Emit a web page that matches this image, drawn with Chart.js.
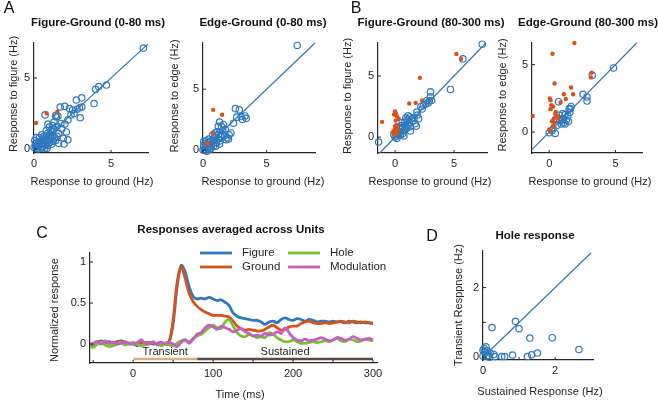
<!DOCTYPE html>
<html>
<head>
<meta charset="utf-8">
<script src="https://cdn.jsdelivr.net/npm/chart.js@4.4.1/dist/chart.umd.min.js"></script>
<style>
  html, body { margin: 0; padding: 0; background: #fff; }
  #wrap { position: relative; width: 658px; height: 402px; overflow: hidden; }
  #wrap canvas { position: absolute; left: 0; top: 0; }
</style>
</head>
<body>
<div id="wrap">
  <canvas id="a1" width="658" height="402"></canvas>
  <canvas id="a2" width="658" height="402"></canvas>
  <canvas id="b1" width="658" height="402"></canvas>
  <canvas id="b2" width="658" height="402"></canvas>
  <canvas id="c" width="658" height="402"></canvas>
  <canvas id="d" width="658" height="402"></canvas>
</div>
<script>
// ---- data ----
// A: 0-80 ms, [ground, figure/edge] in Hz
const a1Units = [[7.1,7.1],[4.7,4.5],[4.2,4.4],[4.0,4.2],[3.9,3.2],[3.1,3.6],[2.75,3.45],[3.1,2.95],[2.95,2.9],[2.8,2.8],[3.0,2.2],[2.5,2.75],[2.3,2.85],[2.0,3.0],[1.7,2.95],[2.6,2.5],[2.4,2.4],[2.2,2.05],[1.55,2.3],[1.45,2.25],[1.4,2.35],[0.72,2.4],[2.0,1.75],[1.75,1.8],[1.5,1.6],[2.1,1.2],[1.6,1.1],[1.9,0.75],[2.2,0.65],[1.95,0.35],[1.3,1.4],[1.2,1.2],[1.1,1.3],[1.0,1.0],[0.9,1.1],[0.8,0.9],[1.2,0.9],[1.35,0.8],[1.5,0.9],[1.4,0.6],[1.1,0.7],[0.95,0.6],[0.85,0.5],[0.7,0.6],[0.6,0.45],[0.55,0.7],[0.5,0.35],[0.4,0.5],[0.35,0.3],[0.3,0.15],[0.2,0.25],[0.15,0.05],[0.1,0.4],[0.05,0.6],[0.0,0.1],[0.25,0.0],[0.45,0.05],[0.6,0.2],[0.75,0.3],[0.9,0.25],[1.0,0.45],[1.15,0.35],[1.25,0.55],[0.65,0.9],[0.5,1.0],[0.35,0.8],[0.8,1.3],[1.0,1.55],[0.9,1.75],[1.2,1.65],[1.3,1.9],[0.3,0.5],[0.15,0.8],[0.7,0.05],[1.6,0.4],[1.8,1.4],[1.05,0.85],[0.55,0.15],[0.85,0.05],[0.1,0.2]]
const a1Sig = [[0.13,1.83],[0.82,2.51],[1.51,2.63]]
const a2Units = [[7.4,8.6],[2.55,3.4],[2.85,3.3],[3.4,2.6],[3.0,2.75],[3.1,2.5],[2.65,2.7],[3.3,2.8],[2.4,2.2],[1.3,2.3],[1.6,2.1],[1.45,1.95],[1.2,1.95],[1.75,1.7],[1.55,1.6],[2.2,1.4],[1.9,1.0],[1.3,0.5],[1.0,1.2],[1.1,1.5],[0.9,1.0],[0.8,0.8],[1.2,0.9],[1.4,1.1],[1.5,1.3],[1.7,1.2],[1.05,0.6],[0.7,0.5],[0.6,0.7],[0.5,0.3],[0.4,0.6],[0.3,0.4],[0.2,0.2],[0.15,0.55],[0.1,0.05],[0.05,0.3],[0.0,0.0],[0.3,-0.1],[0.5,0.05],[0.65,0.25],[0.85,0.35],[1.0,0.3],[0.25,0.75],[0.05,0.7],[0.45,0.9],[0.75,1.2],[0.95,1.4],[1.25,1.3],[2.0,0.9],[1.8,0.85],[0.35,0.15],[0.6,0.1],[0.15,-0.05],[2.05,1.25],[1.35,0.75]]
const a2Sig = [[0.8,3.3],[1.5,2.9],[0.75,1.4],[0.4,0.55],[0.3,0.5]]

// B: 80-300 ms
const b1Units = [[7.4,7.6],[5.75,6.4],[4.7,3.9],[3.0,3.7],[3.0,3.3],[2.7,3.0],[2.6,2.7],[2.8,2.8],[3.1,3.0],[2.4,2.6],[2.2,2.5],[1.85,2.05],[1.25,1.65],[1.3,0.85],[1.3,0.5],[1.7,1.1],[1.5,1.3],[1.0,1.4],[0.8,1.2],[1.1,1.0],[0.9,0.9],[0.6,0.8],[0.5,0.6],[0.7,0.5],[0.4,0.4],[0.3,0.2],[0.2,0.5],[0.1,0.1],[0.0,0.0],[-0.1,0.2],[0.15,-0.1],[0.45,0.15],[0.65,0.3],[0.85,0.6],[1.0,0.75],[1.2,1.2],[1.4,1.5],[1.6,1.55],[0.9,1.55],[0.6,1.2],[1.9,1.8],[2.0,1.5],[2.3,2.3],[0.35,0.75],[-1.4,-0.4],[0.25,0.3],[1.8,0.9],[1.1,1.75],[0.55,0.95],[0.75,0.1],[2.9,2.95]]
const b1Sig = [[5.2,6.8],[5.6,6.4],[2.1,4.85],[1.2,2.75],[1.75,2.8],[2.3,3.0],[-1.1,1.25],[0.0,2.1],[0.1,1.9],[-0.1,1.85],[0.15,1.7],[0.05,1.35],[0.0,0.9],[-0.05,0.6],[0.1,1.0],[-0.2,0.4],[0.2,0.75],[-0.05,0.3],[0.3,1.5],[0.25,0.55],[0.1,0.2]]
const b2Units = [[4.85,4.75],[3.25,4.2],[2.55,2.8],[2.85,2.3],[2.85,2.6],[0.7,2.25],[1.5,1.7],[1.55,1.45],[1.2,1.3],[1.45,0.8],[1.3,0.9],[1.0,1.0],[1.1,0.7],[0.9,0.6],[0.8,0.85],[0.6,0.5],[0.45,-0.1],[0.0,-0.05],[1.65,1.9],[1.4,1.2],[1.0,1.35],[0.75,1.25],[1.2,0.6],[0.55,0.95],[0.3,0.25],[0.2,0.1],[1.6,1.75],[0.95,0.9]]
const b2Sig = [[1.9,6.6],[0.25,5.8],[0.4,3.6],[3.2,4.4],[3.15,4.05],[1.65,3.3],[1.8,2.8],[1.1,2.8],[1.25,2.45],[0.85,2.2],[0.05,2.5],[0.1,2.35],[0.1,1.7],[0.15,2.0],[0.3,1.9],[-1.25,1.2],[0.6,1.2],[0.7,1.0],[0.4,0.7],[0.3,0.45],[0.1,0.1],[0.5,1.5],[0.2,0.8],[0.0,0.2],[0.35,1.0],[0.45,1.35]]

// D: hole response [sustained, transient]
const dUnits = [[0.08,0.3],[0.03,0.25],[0.25,0.85],[0.9,1.03],[1.0,0.82],[1.3,0.55],[1.92,0.56],[2.66,0.22],[1.51,0.12],[1.35,0.07],[1.23,0.02],[0.82,0.06],[0.6,0.02],[0.52,0.02],[0.33,0.02],[0.3,0.08],[0.15,0.05],[0.1,0.03],[0.0,0.03],[0.2,0.12],[0.05,0.15],[0.12,0.18],[0.0,0.2],[0.18,0.0]]

// identity lines (axis extent)
const a1Diag = [0, 7.4]
const a2Diag = [0, 8.8]
const b1Diag = [-1.3, 7.7]
const b2Diag = [-1.3, 6.6]
const dDiag = [0, 3.0]

// C: averaged responses
const timeMs = [-55,-50,-45,-40,-35,-30,-25,-20,-15,-10,-5,0,5,10,15,20,25,30,35,40,45,50,55,60,65,70,75,80,85,90,95,100,105,110,115,120,125,130,135,140,145,150,155,160,165,170,175,180,185,190,195,200,205,210,215,220,225,230,235,240,245,250,255,260,265,270,275,280,285,290,295,300]
const figureResp = [0.0,-0.02,0.02,0.04,0.02,0.03,0.01,0.03,0.04,0.02,0.0,0.01,-0.02,0.02,0.01,0.02,0.0,0.01,0.02,0.0,0.03,0.25,0.70,0.96,0.88,0.70,0.58,0.55,0.56,0.55,0.57,0.55,0.53,0.54,0.51,0.47,0.38,0.34,0.32,0.31,0.30,0.29,0.29,0.27,0.24,0.27,0.28,0.26,0.30,0.32,0.30,0.29,0.31,0.30,0.28,0.30,0.29,0.27,0.28,0.28,0.27,0.28,0.27,0.27,0.26,0.28,0.27,0.26,0.27,0.26,0.26,0.25]
const groundResp = [0.01,-0.01,0.03,0.02,0.03,0.01,0.02,0.02,0.03,0.01,0.01,0.0,0.0,0.01,0.02,0.01,0.01,0.0,0.01,0.01,0.03,0.30,0.75,0.94,0.80,0.62,0.52,0.46,0.42,0.39,0.37,0.35,0.35,0.35,0.34,0.33,0.28,0.22,0.19,0.17,0.18,0.17,0.16,0.16,0.18,0.21,0.23,0.20,0.17,0.18,0.21,0.22,0.22,0.25,0.27,0.28,0.26,0.25,0.25,0.26,0.25,0.26,0.27,0.28,0.27,0.26,0.28,0.27,0.26,0.27,0.26,0.26]
const holeResp = [-0.02,-0.04,0.0,0.02,-0.01,-0.03,-0.02,0.0,0.02,-0.01,0.01,0.02,0.0,-0.02,-0.01,0.01,0.02,0.0,-0.02,0.0,-0.01,-0.02,0.01,0.04,0.05,0.03,0.07,0.10,0.12,0.16,0.20,0.23,0.20,0.19,0.27,0.30,0.22,0.14,0.10,0.09,0.12,0.10,0.08,0.09,0.08,0.14,0.12,0.08,0.05,0.03,0.03,0.05,0.03,0.01,0.01,0.02,0.03,0.02,0.03,0.04,0.03,0.05,0.07,0.04,0.03,0.06,0.05,0.03,0.04,0.06,0.05,0.04]
const modulationResp = [-0.01,0.01,0.03,0.0,0.04,0.01,0.02,0.0,0.01,0.03,0.01,0.0,0.02,0.05,0.01,0.0,0.03,-0.01,0.02,0.01,0.02,0.0,-0.03,0.02,0.05,0.01,0.06,0.12,0.14,0.20,0.23,0.21,0.18,0.22,0.20,0.18,0.15,0.17,0.19,0.15,0.13,0.10,0.11,0.10,0.13,0.11,0.12,0.15,0.13,0.20,0.14,0.08,0.05,0.04,0.06,0.04,0.05,0.06,0.08,0.06,0.04,0.05,0.08,0.07,0.05,0.06,0.09,0.07,0.05,0.06,0.07,0.05]
const epochNames = ["Transient", "Sustained"]
const epochEdges = [0, 80, 300]
const epochLevel = -0.18

// tick values
const scatterTicks = [0, 5]
const cTimeTicks = [-50, 0, 50, 100, 150, 200, 250, 300]
const cRespTicks = [0, 0.5, 1]
const dTicks = [0, 1, 2]

// ---- style ----
const W = 658, H = 402
const FONT = "'Liberation Sans', Arial, Helvetica, sans-serif"
const BLUE = "#2f78bd", ORANGE = "#d95319", GREEN = "#78c02c", MAGENTA = "#c45ec4"
const AXIS = "#262626", TXT = "#262626"
const YW = 30, XH = 20

function pts(arr) { return arr.map(p => ({ x: p[0], y: p[1] })) }

// text + inward tick marks, drawn in page coordinates
function overlay(items, extra) {
  return {
    id: "overlay",
    afterDraw(chart) {
      const ctx = chart.ctx
      const area = chart.chartArea
      ctx.save()
      ctx.strokeStyle = AXIS
      ctx.lineWidth = 1
      const xs = chart.scales.x, ys = chart.scales.y
      xs.ticks.forEach(t => {
        const px = xs.getPixelForValue(t.value)
        ctx.beginPath(); ctx.moveTo(px, area.bottom); ctx.lineTo(px, area.bottom - 3); ctx.stroke()
      })
      ys.ticks.forEach(t => {
        const py = ys.getPixelForValue(t.value)
        ctx.beginPath(); ctx.moveTo(area.left, py); ctx.lineTo(area.left + 3, py); ctx.stroke()
      })
      items.forEach(it => {
        ctx.save()
        ctx.fillStyle = it.color || TXT
        ctx.font = (it.bold ? "bold " : "") + (it.size || 11) + "px " + FONT
        ctx.textAlign = it.align || "center"
        ctx.textBaseline = "middle"
        ctx.translate(it.x, it.y)
        if (it.rot) ctx.rotate(-Math.PI / 2)
        ctx.fillText(it.text, 0, 0)
        ctx.restore()
      })
      if (extra) extra(chart, ctx)
      ctx.restore()
    }
  }
}

function axis(min, max, vals, label, fit) {
  return {
    type: "linear", min, max,
    grid: { display: false, drawTicks: false },
    border: { display: true, color: AXIS, width: 1.2 },
    ticks: { color: TXT, font: { family: FONT, size: 11 }, padding: 4, autoSkip: false, maxRotation: 0, callback: label },
    afterBuildTicks: s => { s.ticks = vals.map(v => ({ value: v })) },
    afterFit: fit
  }
}

function baseOptions(box, xAxis, yAxis) {
  return {
    responsive: false, animation: false, events: [], devicePixelRatio: 1,
    layout: { padding: { left: box[0] - YW, top: box[1], right: W - box[2], bottom: H - box[3] - XH } },
    plugins: { legend: { display: false }, tooltip: { enabled: false }, title: { display: false } },
    scales: { x: xAxis, y: yAxis }
  }
}

const showAll = v => String(v)

function scatterPanel(id, box, xr, yr, diag, units, sig, texts, ticksX, ticksY, labX, labY) {
  const datasets = []
  if (sig) datasets.push({ data: pts(sig), pointRadius: 2.2, backgroundColor: ORANGE, borderWidth: 0, clip: false })
  datasets.push({ data: pts(units), pointRadius: 3.2, pointBorderWidth: 1.2, borderColor: BLUE, backgroundColor: "rgba(0,0,0,0)", clip: false })
  datasets.push({ data: diag.map(v => ({ x: v, y: v })), showLine: true, borderColor: BLUE, borderWidth: 1.2, pointRadius: 0, clip: false })
  new Chart(document.getElementById(id), {
    type: "scatter",
    data: { datasets },
    options: baseOptions(box,
      axis(xr[0], xr[1], ticksX || scatterTicks, labX || showAll, s => { s.height = XH }),
      axis(yr[0], yr[1], ticksY || scatterTicks, labY || showAll, s => { s.width = YW })),
    plugins: [overlay(texts)]
  })
}

// ---- panel A ----
scatterPanel("a1", [34, 43, 148, 153], [0, 7.4], [-0.28, 7.46], a1Diag, a1Units, a1Sig, [
  { text: "A", x: 9, y: 9, size: 16, color: "#111" },
  { text: "Figure-Ground (0-80 ms)", x: 98, y: 23, bold: true, size: 11.5, color: "#111" },
  { text: "Response to ground (Hz)", x: 92, y: 182 },
  { text: "Response to figure (Hz)", x: 14, y: 94, rot: true }
])
scatterPanel("a2", [203, 43, 315, 153], [0, 8.8], [-0.25, 8.8], a2Diag, a2Units, a2Sig, [
  { text: "Edge-Ground (0-80 ms)", x: 263, y: 23, bold: true, size: 11.5, color: "#111" },
  { text: "Response to ground (Hz)", x: 263, y: 182 },
  { text: "Response to edge (Hz)", x: 175, y: 96, rot: true }
])

// ---- panel B ----
scatterPanel("b1", [378, 43, 487, 153], [-1.45, 7.8], [-1.3, 7.7], b1Diag, b1Units, b1Sig, [
  { text: "B", x: 356, y: 9, size: 16, color: "#111" },
  { text: "Figure-Ground (80-300 ms)", x: 431, y: 23, bold: true, size: 11.5, color: "#111" },
  { text: "Response to ground (Hz)", x: 430, y: 182 },
  { text: "Response to figure (Hz)", x: 348, y: 96, rot: true }
])
scatterPanel("b2", [532, 43, 642, 153], [-1.3, 7.0], [-1.55, 6.6], b2Diag, b2Units, b2Sig, [
  { text: "Edge-Ground (80-300 ms)", x: 588, y: 23, bold: true, size: 11.5, color: "#111" },
  { text: "Response to ground (Hz)", x: 590, y: 182 },
  { text: "Response to edge (Hz)", x: 503, y: 95, rot: true }
])

// ---- panel C ----
function series(vals) { return timeMs.map((t, i) => ({ x: t, y: vals[i] })) }
function line(vals, color) {
  return { data: series(vals), borderColor: color, borderWidth: 2.8, pointRadius: 0, tension: 0.35, fill: false }
}
const cBox = [90, 253, 377, 363]
new Chart(document.getElementById("c"), {
  type: "line",
  data: {
    datasets: [
      line(modulationResp, MAGENTA),
      line(holeResp, GREEN),
      line(groundResp, ORANGE),
      line(figureResp, BLUE),
      { data: [{ x: epochEdges[0], y: epochLevel }, { x: epochEdges[1], y: epochLevel }], borderColor: "#dcae80", borderWidth: 2.5, pointRadius: 0 },
      { data: [{ x: epochEdges[1], y: epochLevel }, { x: epochEdges[2], y: epochLevel }], borderColor: "#5a4843", borderWidth: 2.5, pointRadius: 0 }
    ]
  },
  options: baseOptions(cBox,
    axis(-54, 305, cTimeTicks, v => (v >= 0 && v % 100 === 0) ? String(v) : "", s => { s.height = XH }),
    axis(-0.23, 1.11, cRespTicks, showAll, s => { s.width = YW })),
  plugins: [overlay([
    { text: "C", x: 42, y: 234, size: 16, color: "#111" },
    { text: "Responses averaged across Units", x: 231, y: 230, bold: true, size: 11.5, color: "#111" },
    { text: "Time (ms)", x: 240, y: 395 },
    { text: "Normalized response", x: 55, y: 310, rot: true }
  ], (chart, ctx) => {
    // epoch labels above the bars
    const xs = chart.scales.x, ys = chart.scales.y
    ctx.fillStyle = TXT
    ctx.font = "11px " + FONT
    ctx.textAlign = "center"
    ctx.textBaseline = "bottom"
    epochNames.forEach((n, i) => {
      const mid = (epochEdges[i] + epochEdges[i + 1]) / 2
      ctx.fillText(n, xs.getPixelForValue(mid), ys.getPixelForValue(epochLevel) - 1)
    })
    // 2x2 legend
    const keys = [["Figure", BLUE, 200, 253], ["Ground", ORANGE, 200, 267], ["Hole", GREEN, 288, 253], ["Modulation", MAGENTA, 288, 267]]
    ctx.textAlign = "left"
    ctx.textBaseline = "middle"
    ctx.font = "11.5px " + FONT
    keys.forEach(k => {
      ctx.strokeStyle = k[1]; ctx.lineWidth = 2.8
      ctx.beginPath(); ctx.moveTo(k[2], k[3]); ctx.lineTo(k[2] + 32, k[3]); ctx.stroke()
      ctx.fillStyle = TXT
      ctx.fillText(k[0], k[2] + 42, k[3])
    })
  })]
})

// ---- panel D ----
scatterPanel("d", [483, 251, 593, 360], [0, 3.05], [-0.08, 3.05], dDiag, dUnits, null, [
  { text: "D", x: 432, y: 237, size: 16, color: "#111" },
  { text: "Hole response", x: 535, y: 236, bold: true, size: 11.5, color: "#111" },
  { text: "Sustained Response (Hz)", x: 540, y: 392 },
  { text: "Transient Resppnse (Hz)", x: 459, y: 305, rot: true }
], dTicks, dTicks, v => (v % 2 === 0 ? String(v) : ""), v => (v % 2 === 0 ? String(v) : ""))
</script>
</body>
</html>
